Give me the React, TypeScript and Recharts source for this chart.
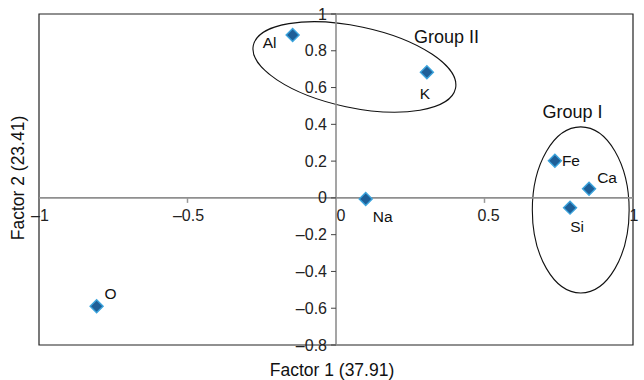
import {
  ReferenceArea,
  ReferenceDot,
  ReferenceLine,
  Scatter,
  ScatterChart,
  XAxis,
  YAxis,
} from "recharts";

const elements = ["Al", "K", "Fe", "Ca", "Si", "Na", "O"];
const factor1 = [-0.146, 0.306, 0.737, 0.852, 0.788, 0.1, -0.806];
const factor2 = [0.886, 0.683, 0.202, 0.05, -0.053, -0.006, -0.589];

const xTicks = [-1, -0.5, 0, 0.5, 1];
const yTicks = [-0.8, -0.6, -0.4, -0.2, 0, 0.2, 0.4, 0.6, 0.8, 1];

// group outlines, in factor units
const groupOne = { label: "Group I", x1: 0.661, x2: 0.987, y1: -0.517, y2: 0.386 };
const groupTwo = { label: "Group II", x1: -0.286, x2: 0.41, y1: 0.491, y2: 0.933 };
const groupOneLabel = { x: 0.796, y: 0.469 };
const groupTwoLabel = { x: 0.372, y: 0.877 };

const data = elements.map((name, i) => ({ name, x: factor1[i], y: factor2[i] }));

const W = 644;
const H = 380;
// axis boxes take 1px each (a 0px axis is not drawn)
const M = { top: 14, right: 11, bottom: 34, left: 38 };
const PLOT_L = M.left + 1;
const PLOT_W = W - PLOT_L - M.right;
const PLOT_H = H - M.top - M.bottom - 1;
const ZERO_X = PLOT_L + PLOT_W / 2;
const ZERO_Y = M.top + (PLOT_H * 1) / 1.8;

const FONT = "'Liberation Sans', Arial, Helvetica, sans-serif";

// where each element name sits relative to its marker (px)
const labelOffset: Record<string, [number, number, "start" | "middle" | "end"]> = {
  Al: [-23, 8, "middle"],
  K: [-2, 21, "middle"],
  Fe: [7, 0, "start"],
  Ca: [18, -11, "middle"],
  Si: [7, 19, "middle"],
  Na: [17, 18, "middle"],
  O: [14, -13, "middle"],
};

const fmt = (v: number) => (v < 0 ? "–" + String(-v) : String(v));

function XTick(props: any) {
  const { x, payload } = props;
  const v = payload.value as number;
  const dx = v === 0 ? 5 : v === 0.5 ? 4 : 1;
  return (
    <g>
      {v !== 0 && v !== -1 && v !== 1 && (
        <line x1={x} x2={x} y1={ZERO_Y} y2={ZERO_Y + 5} stroke="#999" strokeWidth={1.5} />
      )}
      <text x={x + dx} y={ZERO_Y + 23} textAnchor="middle" fontSize={16} fill="#222" fontFamily={FONT}>
        {fmt(v)}
      </text>
    </g>
  );
}

function YTick(props: any) {
  const { y, payload } = props;
  const v = payload.value as number;
  return (
    <g>
      <line x1={ZERO_X - 5} x2={ZERO_X} y1={y} y2={y} stroke="#444" strokeWidth={1} />
      <text x={ZERO_X - 9} y={y + 5.5} textAnchor="end" fontSize={16} fill="#222" fontFamily={FONT}>
        {fmt(v)}
      </text>
    </g>
  );
}

function Marker(props: any) {
  const { cx, cy, payload } = props;
  const r = 6.5;
  const [dx, dy, anchor] = labelOffset[payload.name] ?? [10, 0, "start"];
  return (
    <g>
      <polygon
        points={`${cx},${cy - r} ${cx + r},${cy} ${cx},${cy + r} ${cx - r},${cy}`}
        fill="#1e5f98"
        stroke="#3ba3dc"
        strokeWidth={1.4}
      />
      <text
        x={cx + dx}
        y={cy + dy + 5.5}
        textAnchor={anchor}
        fontSize={15.5}
        fill="#111"
        fontFamily={FONT}
      >
        {payload.name}
      </text>
    </g>
  );
}

function Ellipse(props: any, rotate = 0) {
  const { x, y, width, height } = props;
  const cx = x + width / 2;
  const cy = y + height / 2;
  return (
    <ellipse
      cx={cx}
      cy={cy}
      rx={width / 2}
      ry={height / 2}
      fill="none"
      stroke="#111"
      strokeWidth={1.1}
      transform={`rotate(${rotate} ${cx} ${cy})`}
    />
  );
}

function GroupLabel(text: string) {
  return (props: any) => (
    <text
      x={props.cx}
      y={props.cy + 6}
      textAnchor="middle"
      fontSize={18}
      fill="#111"
      fontFamily={FONT}
    >
      {text}
    </text>
  );
}

export default function App() {
  return (
    <div style={{ position: "absolute", left: 0, top: 0, background: "#fff" }}>
      <ScatterChart width={W} height={H} margin={M}>
        <XAxis
          type="number"
          dataKey="x"
          domain={[-1, 1]}
          ticks={xTicks}
          interval={0}
          height={1}
          axisLine={false}
          tickLine={false}
          tick={(p: any) => <XTick {...p} />}
        />
        <YAxis
          type="number"
          dataKey="y"
          domain={[-0.8, 1]}
          ticks={yTicks}
          interval={0}
          width={1}
          axisLine={false}
          tickLine={false}
          tick={(p: any) => <YTick {...p} />}
        />
        <ReferenceArea
          x1={-1}
          x2={1}
          y1={-0.8}
          y2={1}
          fill="none"
          stroke="#222"
          strokeWidth={1.2}
          fillOpacity={0}
        />
        <ReferenceLine x={0} stroke="#8f8f8f" strokeWidth={1.6} />
        <ReferenceLine y={0} stroke="#8f8f8f" strokeWidth={1.6} />
        <ReferenceArea
          x1={groupOne.x1}
          x2={groupOne.x2}
          y1={groupOne.y1}
          y2={groupOne.y2}
          shape={(p: any) => Ellipse(p, 0)}
        />
        <ReferenceArea
          x1={groupTwo.x1}
          x2={groupTwo.x2}
          y1={groupTwo.y1}
          y2={groupTwo.y2}
          shape={(p: any) => Ellipse(p, 12)}
        />
        <ReferenceDot x={groupOneLabel.x} y={groupOneLabel.y} r={0} shape={GroupLabel(groupOne.label)} />
        <ReferenceDot x={groupTwoLabel.x} y={groupTwoLabel.y} r={0} shape={GroupLabel(groupTwo.label)} />
        <Scatter data={data} shape={Marker} isAnimationActive={false} />
        <text
          x={ZERO_X - 4}
          y={376}
          textAnchor="middle"
          fontSize={17.5}
          fill="#111"
          fontFamily={FONT}
        >
          Factor 1 (37.91)
        </text>
        <text
          x={24}
          y={178}
          textAnchor="middle"
          fontSize={17.5}
          fill="#111"
          fontFamily={FONT}
          transform="rotate(-90 24 178)"
        >
          Factor 2 (23.41)
        </text>
      </ScatterChart>
    </div>
  );
}
